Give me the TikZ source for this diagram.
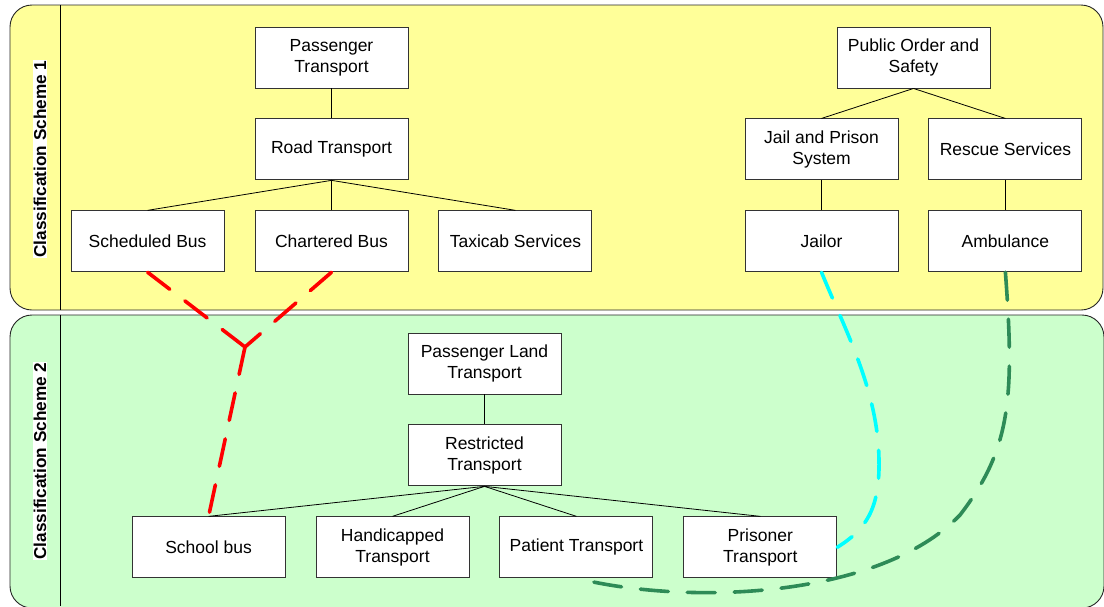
\documentclass[tikz,border=0pt]{standalone}
\usepackage{fontspec}
\setmainfont{Liberation Sans}
\usepackage{xcolor}
\usepackage{tikz}
\usetikzlibrary{positioning}

\definecolor{panelyellow}{HTML}{FFFF99}
\definecolor{panelgreen}{HTML}{CCFFCC}
\definecolor{linkred}{HTML}{FF0000}
\definecolor{linkcyan}{HTML}{00FFFF}
\definecolor{linkgreen}{HTML}{2E8B57}

\tikzset{
    cat/.style={rectangle, draw=black!80, fill=white, line width=0.9pt,
        minimum width=153pt, minimum height=61pt, align=center,
        font=\fontsize{17.5}{21}\selectfont},
    panel/.style={draw=black!85, line width=0.9pt, rounded corners=22pt},
    scheme/.style={rotate=90, fill=white, inner sep=0.5pt,
        font=\fontsize{17.2}{20}\selectfont\bfseries},
    link/.style={line cap=round, line width=3.6pt, dash pattern=on 28pt off 19pt},
}

\begin{document}
\begin{tikzpicture}[node distance=30pt, line width=0.8pt]
            \useasboundingbox (0,0) rectangle (1104pt,-606pt);

            % panels
            \draw [panel, fill=panelyellow] (10pt,-5pt) rectangle (1103pt,-310pt);
            \draw [panel, fill=panelgreen] (10pt,-315pt) rectangle (1104pt,-608pt);
            \draw [black] (60pt,-5pt) -- (60pt,-310pt);
            \draw [black] (60pt,-315pt) -- (60pt,-606pt);
            \node [scheme] (S1) at (40pt,-159pt) {Classification Scheme 1};
            \node [scheme] (S2) at (40pt,-461pt) {Classification Scheme 2};

            % scheme 1
            \node [cat] (A) at (331.5pt,-57.5pt) {Passenger\\Transport};
            \node [cat] (B) [below=of A] {Road Transport};
            \node [cat] (D) [below=of B] {Chartered Bus};
            \node [cat] (C) [left=of D] {Scheduled Bus};
            \node [cat] (E) [right=of D] {Taxicab Services};

            \node [cat] (P) at (913.5pt,-57.5pt) {Public Order and\\Safety};
            \node [cat] (Q) [below=of P, xshift=-92pt] {Jail and Prison\\System};
            \node [cat] (R) [right=of Q] {Rescue Services};
            \node [cat] (J) [below=of Q] {Jailor};
            \node [cat] (K) [below=of R] {Ambulance};

            \draw (A) -- (B);
            \draw (B.south) -- (C.north);
            \draw (B.south) -- (D.north);
            \draw (B.south) -- (E.north);
            \draw (P.south) -- (Q.north);
            \draw (P.south) -- (R.north);
            \draw (Q) -- (J);
            \draw (R) -- (K);

            % scheme 2
            \node [cat] (L) at (484.5pt,-363.5pt) {Passenger Land\\Transport};
            \node [cat] (M) [below=of L] {Restricted\\Transport};
            \node [cat] (H) [below=of M, xshift=-92pt] {Handicapped\\Transport};
            \node [cat] (G) [left=of H] {School bus};
            \node [cat] (T) [right=of H] {Patient Transport};
            \node [cat] (U) [right=of T] {Prisoner\\Transport};

            \draw (L) -- (M);
            \draw (M.south) -- (G.north);
            \draw (M.south) -- (H.north);
            \draw (M.south) -- (T.north);
            \draw (M.south) -- (U.north);

            % mappings between schemes
            \coordinate (Y) at (245pt,-347pt);
            \draw [link, linkred] (C.south) -- (Y);
            \draw [link, linkred] (D.south) -- (Y);
            \draw [link, linkred] (Y) -- (G.north);

            \draw [link, linkcyan] (J.south) .. controls (845pt,-330pt) and (878pt,-390pt) .. (879pt,-460pt)
                .. controls (880pt,-510pt) and (865pt,-530pt) .. (U.east);

            \draw [link, linkgreen] (K.south) .. controls (1015pt,-400pt) and (1010pt,-450pt) .. (960pt,-515pt)
                .. controls (880pt,-598pt) and (690pt,-606pt) .. (T.south);
        \end{tikzpicture}
\end{document}
